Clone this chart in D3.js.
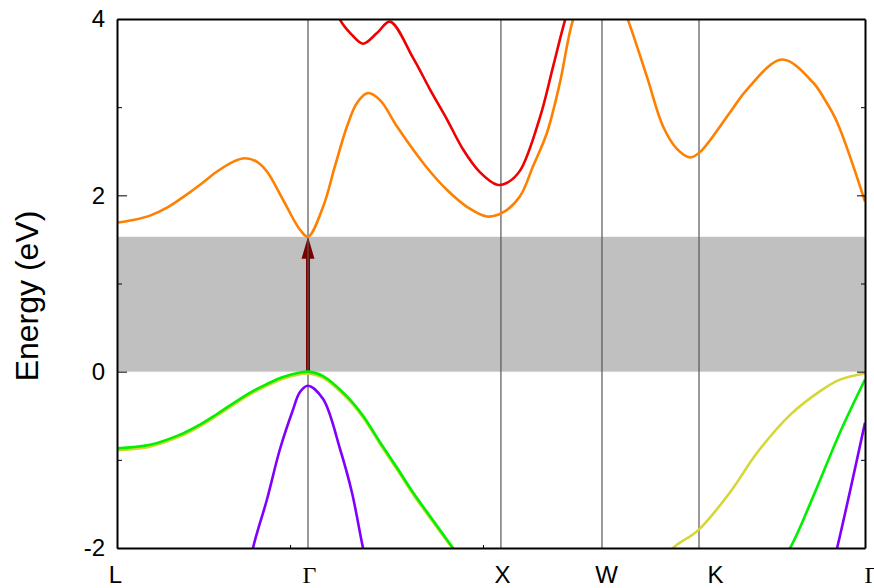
<!DOCTYPE html>
<html>
<head>
<meta charset="utf-8">
<script src="https://cdn.jsdelivr.net/npm/d3@7"></script>
<style>
  body { margin: 0; background: #fff; }
  text { font-family: "Liberation Sans", Arial, sans-serif; }
</style>
</head>
<body>
<script>
// high symmetry points along the k-path
var kTicks = [0, 1.0, 2.01, 2.539, 3.047, 3.916];
var kLabels = ["L", "Γ", "X", "W", "K", "Γ"];
var kMinor = [0.906, 1.916];

var eMajor = [-2, 0, 2, 4];
var eMinor = [-1, 1, 3];

var gapTop = 1.53; // band gap (eV)

// bands as [k, E] pairs
var bandRed = [[1.10,4.4],[1.168,3.99],[1.230,3.82],[1.288,3.72],[1.361,3.84],[1.429,3.97],
  [1.550,3.56],[1.639,3.20],[1.728,2.86],[1.812,2.52],[1.901,2.26],[1.990,2.12],[2.04,2.14],[2.110,2.28],
  [2.215,2.89],[2.283,3.46],[2.346,3.99],[2.42,4.5]];

var bandOrange = [[0,1.69],[0.084,1.72],[0.173,1.77],[0.262,1.86],[0.346,1.98],[0.435,2.12],[0.524,2.27],
  [0.607,2.38],[0.670,2.42],[0.733,2.38],[0.785,2.27],[0.869,1.95],[0.958,1.61],[1.0,1.53],[1.079,1.87],
  [1.141,2.33],[1.204,2.78],[1.257,3.05],[1.314,3.16],[1.377,3.08],[1.466,2.78],[1.550,2.52],[1.639,2.27],
  [1.728,2.06],[1.832,1.87],[1.937,1.76],[2.016,1.80],[2.110,1.99],[2.178,2.33],[2.251,2.71],[2.319,3.28],
  [2.387,3.99],[2.53,4.8],[2.675,3.99],[2.775,3.34],[2.859,2.78],[2.93,2.53],[3.0,2.43],[3.052,2.49],
  [3.209,2.94],[3.298,3.20],[3.482,3.54],[3.644,3.28],[3.707,3.08],[3.770,2.83],[3.916,1.93]];

var bandYellow = [[0,-0.89],[0.173,-0.85],[0.346,-0.72],[0.435,-0.62],[0.524,-0.50],[0.695,-0.26],
  [0.785,-0.16],[0.869,-0.08],[0.958,-0.03],[1.0,-0.02],[1.079,-0.07],[1.204,-0.30],[1.288,-0.52],
  [1.377,-0.82],[1.466,-1.11],[1.550,-1.39],[1.639,-1.66],[1.755,-2.0],[1.90,-2.4],[2.70,-2.6],[2.80,-2.3],
  [2.911,-2.0],[3.042,-1.80],[3.209,-1.37],[3.351,-0.92],[3.524,-0.49],[3.681,-0.22],[3.785,-0.09],
  [3.916,-0.02]];

var bandGreen = [[0,-0.87],[0.173,-0.83],[0.346,-0.70],[0.435,-0.60],[0.524,-0.48],[0.695,-0.24],
  [0.785,-0.14],[0.869,-0.06],[0.958,-0.01],[1.0,0],[1.079,-0.05],[1.204,-0.28],[1.288,-0.50],
  [1.377,-0.80],[1.466,-1.09],[1.550,-1.37],[1.639,-1.64],[1.759,-2.0],[1.90,-2.4],[3.40,-2.4],
  [3.524,-2.0],[3.644,-1.42],[3.785,-0.69],[3.916,-0.09]];

var bandPurple = [[0.66,-2.6],[0.712,-2.0],[0.785,-1.45],[0.853,-0.88],[0.92,-0.44],[0.958,-0.23],
  [1.0,-0.16],[1.079,-0.31],[1.168,-0.88],[1.230,-1.37],[1.288,-2.0],[1.35,-2.6],[3.70,-2.6],
  [3.770,-2.0],[3.916,-0.58]];

var width = 874, height = 588;
var svg = d3.select("body").append("svg").attr("width", width).attr("height", height);

var x = d3.scaleLinear().domain([0, 3.916]).range([117, 865]);
var y = d3.scaleLinear().domain([-2, 4]).range([548, 19]);

svg.append("clipPath").attr("id", "plot")
  .append("rect").attr("x", x(0)).attr("y", y(4)).attr("width", x(3.916) - x(0)).attr("height", y(-2) - y(4));

// gap shading
svg.append("rect")
  .attr("x", x(0)).attr("y", y(gapTop))
  .attr("width", x(3.916) - x(0)).attr("height", y(0) - y(gapTop))
  .attr("fill", "#c0c0c0");

// arrow for the direct gap at Gamma
var ag = svg.append("g").attr("fill", "#7a0000");
ag.append("rect")
  .attr("x", x(1.0) - 2).attr("y", y(gapTop) + 18)
  .attr("width", 4).attr("height", y(0) - y(gapTop) - 18);
ag.append("path")
  .attr("d", "M" + x(1.0) + "," + y(gapTop) + "L" + (x(1.0) + 6.5) + "," + (y(gapTop) + 22) +
    "L" + (x(1.0) - 6.5) + "," + (y(gapTop) + 22) + "Z");

// vertical lines at the symmetry points
svg.selectAll("line.sym").data(kTicks.slice(1, -1)).enter().append("line")
  .attr("class", "sym")
  .attr("x1", d => x(d)).attr("x2", d => x(d))
  .attr("y1", y(4)).attr("y2", y(-2))
  .attr("stroke", "#555").attr("stroke-width", 1.2);

var line = d3.line()
  .x(d => x(d[0]))
  .y(d => y(d[1]))
  .curve(d3.curveCatmullRom.alpha(0.5));

var bands = [
  {data: bandYellow, color: "#d6d636"},
  {data: bandGreen, color: "#00f000"},
  {data: bandPurple, color: "#8000ff"},
  {data: bandOrange, color: "#ff8000"},
  {data: bandRed, color: "#f00000"}
];
var gb = svg.append("g").attr("clip-path", "url(#plot)");
gb.selectAll("path").data(bands).enter().append("path")
  .attr("d", d => line(d.data))
  .attr("fill", "none")
  .attr("stroke", d => d.color)
  .attr("stroke-width", 2.6);

// axes / frame
var gl = svg.append("g").attr("transform", "translate(" + x(0) + ",0)")
  .call(d3.axisLeft(y).tickValues(eMajor).tickSizeInner(-10).tickSizeOuter(0).tickPadding(12)
    .tickFormat(d => String(d)));
gl.selectAll("text").attr("font-size", 24).attr("fill", "#000").style("font-family", "Liberation Sans, Arial, sans-serif");
svg.append("g").attr("transform", "translate(" + x(0) + ",0)")
  .call(d3.axisLeft(y).tickValues(eMinor).tickSize(-5).tickFormat(""))
  .select(".domain").remove();

svg.append("g").attr("transform", "translate(" + x(3.916) + ",0)")
  .call(d3.axisRight(y).tickValues(eMajor).tickSize(-8).tickSizeOuter(0).tickFormat(""));
svg.append("g").attr("transform", "translate(" + x(3.916) + ",0)")
  .call(d3.axisRight(y).tickValues(eMinor).tickSize(-4).tickFormat(""))
  .select(".domain").remove();

var gbot = svg.append("g").attr("transform", "translate(0," + y(-2) + ")")
  .call(d3.axisBottom(x).tickValues(kTicks).tickSize(0).tickPadding(18).tickFormat((d, i) => kLabels[i]));
gbot.selectAll("text")
  .attr("font-size", 24).attr("fill", "#000")
  .attr("dx", (d, i) => [-2, 1, 1, 4, 16, 6][i])
  .style("font-family", (d, i) => kLabels[i] == "Γ" ? "Liberation Serif, Times New Roman, serif" : "Liberation Sans, Arial, sans-serif");
svg.append("g").attr("transform", "translate(0," + y(-2) + ")")
  .call(d3.axisBottom(x).tickValues(kMinor).tickSize(-3).tickFormat(""))
  .select(".domain").remove();

svg.append("g").attr("transform", "translate(0," + y(4) + ")")
  .call(d3.axisTop(x).tickValues([]).tickSizeOuter(0));

svg.selectAll(".domain").attr("stroke-width", 2);

svg.append("text")
  .attr("transform", "translate(38," + 296 + ") rotate(-90)")
  .attr("text-anchor", "middle")
  .attr("font-size", 32)
  .text("Energy (eV)");
</script>
</body>
</html>
